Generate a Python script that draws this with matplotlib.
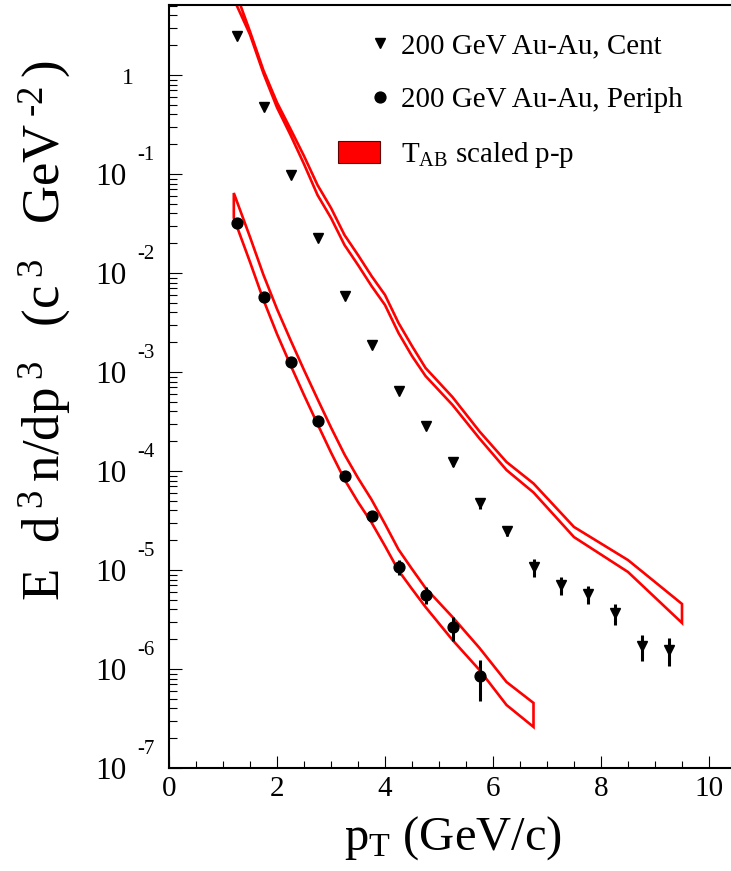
import numpy as np
import matplotlib
matplotlib.use('Agg')
import matplotlib.pyplot as plt
from matplotlib.lines import Line2D
from matplotlib.patches import Patch
from matplotlib.legend_handler import HandlerLine2D
import matplotlib.transforms as mtransforms
from matplotlib.ticker import FixedLocator, NullFormatter, LogLocator, MultipleLocator

plt.rcParams['font.family'] = ['Liberation Serif', 'DejaVu Serif']
plt.rcParams['mathtext.fontset'] = 'custom'
plt.rcParams['mathtext.rm'] = 'Liberation Serif'
plt.rcParams['mathtext.it'] = 'Liberation Serif:italic'
plt.rcParams['mathtext.bf'] = 'Liberation Serif:bold'

# ---------------- data ----------------
pt_cent = [1.25, 1.75, 2.25, 2.75, 3.25, 3.75, 4.25, 4.75, 5.25, 5.75,
           6.25, 6.75, 7.25, 7.75, 8.25, 8.75, 9.25]
y_cent = [2.48, 0.475, 0.0977, 0.0226, 0.00586, 0.001875, 6.43e-4, 2.85e-4,
          1.23e-4, 4.75e-5, 2.48e-5, 1.07e-5, 7.05e-6, 5.73e-6, 3.68e-6,
          1.71e-6, 1.56e-6]
err_cent = [0.05, 0.0095, 0.002, 6.8e-4, 1.8e-4, 7.5e-5, 3.2e-5, 1.7e-5,
            1.0e-5, 5.7e-6, 3.0e-6, 2.2e-6, 1.4e-6, 1.2e-6, 8.8e-7,
            5.1e-7, 5.0e-7]

pt_peri = [1.25, 1.75, 2.25, 2.75, 3.25, 3.75, 4.25, 4.75, 5.25, 5.75]
y_peri = [0.032, 0.00573, 0.00126, 3.20e-4, 9.0e-5, 3.51e-5, 1.07e-5,
          5.59e-6, 2.66e-6, 8.5e-7]
err_peri = [6.4e-4, 1.7e-4, 3.8e-5, 1.3e-5, 4.5e-6, 2.5e-6, 1.9e-6,
            1.1e-6, 7.2e-7, 3.7e-7]

# T_AB scaled p-p bands (upper / lower edges)
pt_band_cent = [1.2, 1.5, 1.75, 2.0, 2.25, 2.5, 2.75, 3.0, 3.25, 3.5, 3.75,
                4.0, 4.25, 4.5, 4.75, 5.25, 5.75, 6.25, 6.75, 7.5, 8.5, 9.5]
band_cent_hi = [7.74, 2.75, 1.11, 0.527, 0.285, 0.152, 0.0774, 0.0454,
                0.0242, 0.0152, 0.00933, 0.0060, 0.00313, 0.00183, 0.0011,
                5.58e-4, 2.51e-4, 1.233e-4, 7.48e-5, 2.72e-5, 1.26e-5, 4.54e-6]
band_cent_lo = [5.86, 2.56, 1.036, 0.470, 0.248, 0.126, 0.0614, 0.0360,
                0.0192, 0.01205, 0.0074, 0.00475, 0.00248, 0.00145, 9.12e-4,
                4.65e-4, 2.13e-4, 1.023e-4, 6.07e-5, 2.15e-5, 9.55e-6, 2.92e-6]

pt_band_peri = [1.2, 1.5, 1.75, 2.0, 2.25, 2.5, 2.75, 3.0, 3.25, 3.5, 3.75,
                4.0, 4.25, 4.5, 4.75, 5.25, 5.75, 6.25, 6.75]
band_peri_hi = [0.0643, 0.0231, 0.00954, 0.004329, 0.002105, 0.001047,
                5.337e-4, 2.751e-4, 1.468e-4, 8.50e-5, 5.15e-5, 2.915e-5,
                1.611e-5, 1.023e-5, 6.58e-6, 3.35e-6, 1.63e-6, 7.39e-7, 4.54e-7]
band_peri_lo = [0.03593, 0.01291, 0.005337, 0.00242, 0.001177, 5.857e-4,
                2.984e-4, 1.538e-4, 8.21e-5, 4.86e-5, 3.02e-5, 1.747e-5,
                9.88e-6, 6.43e-6, 4.23e-6, 1.963e-6, 9.77e-7, 4.33e-7, 2.60e-7]

decades = [-7, -6, -5, -4, -3, -2, -1, 0]
x_ticks = [0, 2, 4, 6, 8, 10]

label_cent = "200 GeV Au-Au, Cent"
label_peri = "200 GeV Au-Au, Periph"
label_band = r"T$_{\mathrm{AB}}$ scaled p-p"
x_title = r"p$_{\mathrm{T}}$ (GeV/c)"
y_title = ("E  d$^{\\;3\\;}$n/dp$^{\\;3\\;}$  (c$^{\\;3\\;}$  "
           "GeV$^{\\;\u2010 2\\;}$)")

# ---------------- figure ----------------
W, H = 731, 871
fig = plt.figure(figsize=(W / 100, H / 100), dpi=100)
ax = fig.add_axes([169 / W, 103 / H, (736 - 169) / W, 763 / H])
ax.set_xlim(0, 10.5)
ax.set_yscale('log')
ax.set_ylim(1e-7, 10 ** (70 / 99))

red = '#ff0000'
for pts, hi, lo in [(pt_band_cent, band_cent_hi, band_cent_lo),
                    (pt_band_peri, band_peri_hi, band_peri_lo)]:
    xs = list(pts) + list(pts)[::-1]
    ys = list(hi) + list(lo)[::-1]
    ax.fill(xs, ys, facecolor='none', edgecolor=red, lw=1.9, zorder=2)

ax.errorbar(pt_cent, y_cent, yerr=err_cent, fmt='none', ecolor='black',
            elinewidth=2.2, capsize=0, zorder=3)
ax.errorbar(pt_peri, y_peri, yerr=err_peri, fmt='none', ecolor='black',
            elinewidth=2.2, capsize=0, zorder=3)
ax.plot(pt_cent, y_cent, linestyle='none', marker='v', color='black',
        markersize=7.5, zorder=4)
ax.plot(pt_peri, y_peri, linestyle='none', marker='o', color='black',
        markersize=7.8, zorder=4)

# spines
for s in ['left', 'bottom', 'top']:
    ax.spines[s].set_linewidth(1.5)
ax.spines['right'].set_visible(False)

# x ticks
ax.xaxis.set_major_locator(FixedLocator(x_ticks))
ax.xaxis.set_minor_locator(MultipleLocator(0.5))
ax.tick_params(axis='x', which='major', direction='in', length=8.6, width=0.8,
               labelsize=21, pad=6, top=False)
ax.tick_params(axis='x', which='minor', direction='in', length=5, width=0.8,
               top=False)

# y ticks
ax.yaxis.set_major_locator(FixedLocator([10.0 ** k for k in decades]))
ax.yaxis.set_minor_locator(LogLocator(base=10, subs=np.arange(2, 10), numticks=30))
ax.yaxis.set_major_formatter(NullFormatter())
ax.yaxis.set_minor_formatter(NullFormatter())
ax.tick_params(axis='y', which='major', direction='in', length=9.4, width=0.8,
               right=False)
ax.tick_params(axis='y', which='minor', direction='in', length=5.5, width=0.8,
               right=False)

base_tr = mtransforms.blended_transform_factory(fig.transFigure, ax.transData)
tr_ten = mtransforms.offset_copy(base_tr, fig=fig, x=0, y=-11, units='dots')
tr_exp = mtransforms.offset_copy(base_tr, fig=fig, x=0, y=14, units='dots')
tr_one = mtransforms.offset_copy(base_tr, fig=fig, x=0, y=-8.5, units='dots')
for k in decades:
    v = 10.0 ** k
    if k == 0:
        ax.text(134 / W, v, "1", transform=tr_one, ha='right', va='baseline',
                fontsize=17, clip_on=False)
    else:
        ax.text(126 / W, v, "10", transform=tr_ten, ha='right', va='baseline',
                fontsize=22.5, clip_on=False)
        ax.text(137 / W, v, str(k), transform=tr_exp, ha='left', va='baseline',
                fontsize=15, clip_on=False)

# axis titles
fig.text(453 / W, 1 - 850 / H, x_title, ha='center', va='baseline', fontsize=35)
fig.text(45 / W, 1 - 330 / H, y_title, ha='center', va='center', rotation=90,
         fontsize=38)


# legend
class HandlerMarkerRight(HandlerLine2D):
    def get_xdata(self, legend, xdescent, ydescent, width, height, fontsize):
        xr = -xdescent + width
        xdata = np.array([xr - 0.5, xr + 0.5])
        return xdata, np.array([xr])


h_cent = Line2D([], [], linestyle='none', marker='v', color='black', markersize=7.5)
h_peri = Line2D([], [], linestyle='none', marker='o', color='black', markersize=7.8)
h_band = Patch(facecolor=red, edgecolor='#600000', lw=0.8)
fig.legend([h_cent, h_peri, h_band], [label_cent, label_peri, label_band],
           loc='upper left', bbox_to_anchor=(337.7 / W, 1 - 32 / H),
           frameon=False, borderpad=0, borderaxespad=0, fontsize=20.9,
           handlelength=1.44, handleheight=0.8, handletextpad=0.75,
           labelspacing=0.93, numpoints=1,
           handler_map={Line2D: HandlerMarkerRight()})

fig.savefig('out.png', dpi=100)
